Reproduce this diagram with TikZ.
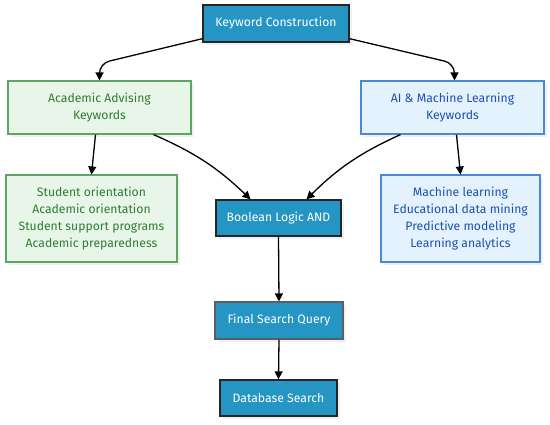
\documentclass[tikz,border=0pt]{standalone}
\usepackage{fontspec}
\setmainfont{Fira Sans}
\usetikzlibrary{arrows.meta,shadows}
\definecolor{mainfill}{HTML}{2596C4}
\definecolor{greenfill}{HTML}{E8F5E9}
\definecolor{greenline}{HTML}{5FA463}
\definecolor{greentext}{HTML}{2E7D32}
\definecolor{bluefill}{HTML}{E3F2FD}
\definecolor{blueline}{HTML}{4A88D8}
\definecolor{bluetext}{HTML}{1E50B0}
\definecolor{softline}{HTML}{5A5F63}
\tikzset{
  base/.style={rectangle, align=center, inner sep=2pt,
    font=\fontsize{12.2}{17.3}\selectfont,
    drop shadow={opacity=0.12, shadow xshift=2.5pt, shadow yshift=-2.5pt}},
  mainbox/.style={base, fill=mainfill, draw=black!85, line width=1.4pt, text=white},
  lightmain/.style={base, fill=mainfill, draw=softline, line width=1.1pt, text=white},
  greenbox/.style={base, fill=greenfill, draw=greenline, line width=1.1pt, text=greentext},
  bluebox/.style={base, fill=bluefill, draw=blueline, line width=1.1pt, text=bluetext},
  arr/.style={-{Triangle[length=8pt,width=8pt]}, line width=1.3pt, black}
}
\begin{document}
\begin{tikzpicture}[x=1pt,y=1pt]
\useasboundingbox (0,0) rectangle (550,-424);
\node[mainbox, minimum width=146pt, minimum height=37pt] (kc) at (276,-23.5) {Keyword Construction};
\node[greenbox, minimum width=183pt, minimum height=53pt] (aa) at (99.5,-107.5) {Academic Advising\\Keywords};
\node[bluebox, minimum width=183pt, minimum height=53pt] (ai) at (452.5,-107.5) {AI \& Machine Learning\\Keywords};
\node[greenbox, minimum width=171pt, minimum height=87pt] (sl) at (91.5,-218.5) {Student orientation\\Academic orientation\\Student support programs\\Academic preparedness};
\node[bluebox, minimum width=159pt, minimum height=87pt] (ml) at (460.5,-218.5) {Machine learning\\Educational data mining\\Predictive modeling\\Learning analytics};
\node[mainbox, minimum width=125pt, minimum height=36pt] (bl) at (278.5,-218) {Boolean Logic AND};
\node[lightmain, minimum width=128pt, minimum height=37pt] (fs) at (279,-320.5) {Final Search Query};
\node[mainbox, minimum width=117pt, minimum height=36pt] (db) at (278.5,-398) {Database Search};

\draw[arr, rounded corners=10pt] ([yshift=4pt]kc.south west) -- ([yshift=17pt]aa.north) -- (aa.north);
\draw[arr, rounded corners=10pt] ([yshift=4pt]kc.south east) -- ([xshift=2pt,yshift=17pt]ai.north) -- ([xshift=2pt]ai.north);
\draw[arr] ([xshift=-4pt]aa.south) -- (sl.north);
\draw[arr] ([xshift=4pt]ai.south) -- (ml.north);
\draw[arr] ([xshift=54pt]aa.south) to[bend left=10] ([xshift=-28pt]bl.north);
\draw[arr] ([xshift=-52pt]ai.south) to[bend right=10] ([xshift=28pt]bl.north);
\draw[arr] (bl.south) -- (fs.north);
\draw[arr] (fs.south) -- (db.north);
\end{tikzpicture}
\end{document}
